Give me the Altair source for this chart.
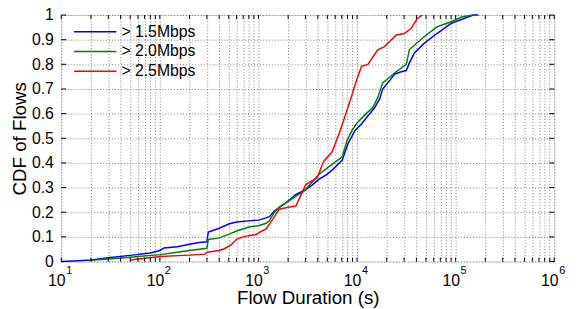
import altair as alt
import pandas as pd

# ---- data ----
blue_x = [10, 15, 20, 30, 50, 80, 100, 110, 150, 200, 250, 300, 310, 340, 400, 500, 600, 800, 1000,
          1150, 1290, 1450, 1620, 2000, 2400, 3020, 3500, 4070, 5000, 5620, 7080, 8130, 9550, 11200,
          12000, 15140, 15850, 17000, 18200, 21000, 24000, 28000, 31600, 33900, 38000, 47900, 64600,
          89100, 120000, 151000, 170000]
blue_y = [0, 0.003, 0.006, 0.015, 0.025, 0.035, 0.045, 0.055, 0.06, 0.07, 0.077, 0.08, 0.12, 0.125,
          0.135, 0.152, 0.16, 0.165, 0.168, 0.175, 0.182, 0.205, 0.219, 0.245, 0.272, 0.292, 0.31,
          0.332, 0.355, 0.372, 0.412, 0.48, 0.532, 0.56, 0.575, 0.625, 0.64, 0.66, 0.70, 0.73, 0.76,
          0.77, 0.775, 0.805, 0.845, 0.885, 0.925, 0.965, 0.985, 1.0, 1.0]

green_x = [20, 30, 50, 100, 150, 200, 300, 310, 350, 400, 500, 600, 800, 1000, 1200, 1290, 1450,
           1620, 2400, 2900, 4070, 5000, 7080, 7940, 8900, 9900, 12000, 14450, 16200, 18200, 24000,
           31600, 34000, 47900, 64600, 89100, 115000, 150000]
green_y = [0.005, 0.01, 0.017, 0.028, 0.038, 0.045, 0.054, 0.09, 0.092, 0.096, 0.11, 0.124, 0.14,
           0.145, 0.155, 0.165, 0.2, 0.22, 0.265, 0.285, 0.352, 0.38, 0.425, 0.492, 0.532, 0.56,
           0.595, 0.625, 0.665, 0.725, 0.765, 0.8, 0.86, 0.912, 0.952, 0.972, 0.992, 1.0]

red_x = [50, 55, 100, 200, 290, 300, 400, 450, 520, 600, 700, 800, 950, 1100, 1200, 1400, 1620,
         2000, 2400, 3020, 3950, 4570, 5590, 6760, 7590, 8510, 9950, 11100, 12900, 16200, 19000,
         25000, 30200, 35300, 40700, 45700]
red_y = [0.005, 0.008, 0.02, 0.026, 0.03, 0.038, 0.045, 0.052, 0.065, 0.09, 0.1, 0.105, 0.11,
         0.125, 0.132, 0.172, 0.212, 0.22, 0.225, 0.312, 0.34, 0.405, 0.445, 0.532, 0.592, 0.652,
         0.739, 0.792, 0.8, 0.859, 0.872, 0.919, 0.925, 0.945, 0.985, 1.0]

series_names = ["> 1.5Mbps", "> 2.0Mbps", "> 2.5Mbps"]
series_colors = ["#0000ff", "#008000", "#ff0000"]

decades = [10, 100, 1000, 10000, 100000, 1000000]
exponents = ["1", "2", "3", "4", "5", "6"]
minor_mult = [2, 3, 4, 5, 6, 7, 8, 9]
y_ticks = [0, 0.1, 0.2, 0.3, 0.4, 0.5, 0.6, 0.7, 0.8, 0.9, 1]

# ---- tables ----
rows = []
for name, xs, ys in zip(series_names, [blue_x, green_x, red_x], [blue_y, green_y, red_y]):
    for i, (a, b) in enumerate(zip(xs, ys)):
        rows.append({"series": name, "x": a, "y": b, "order": i})
df = pd.DataFrame(rows)

x_ticks = sorted(decades + [m * d for d in decades[:-1] for m in minor_mult])
xt_df = pd.DataFrame({"x": x_ticks})
yt_df = pd.DataFrame({"y": y_ticks})
lab_df = pd.DataFrame({"x": decades, "base": ["10"] * len(decades), "exp": exponents})

FONT = "Liberation Sans"
W, H = 500, 250

xscale = alt.Scale(type="log", domain=[10, 1000000])
yscale = alt.Scale(domain=[0, 1])

x_axis = alt.Axis(values=x_ticks, labels=False, ticks=False, domain=False,
                  grid=True, gridDash=[1, 2], gridColor="#808080", gridWidth=1,
                  title="Flow Duration (s)", titleFont=FONT, titleFontSize=19,
                  titleFontWeight="normal", titleColor="black",
                  titleY=42.7, titleBaseline="alphabetic")
y_axis = alt.Axis(values=y_ticks, format="~g", ticks=False, domain=False,
                  labelOverlap=False,
                  grid=True, gridDash=[1, 2], gridColor="#808080", gridWidth=1,
                  labelFont=FONT, labelFontSize=16, labelColor="black", labelPadding=8,
                  title="CDF of Flows", titleFont=FONT, titleFontSize=19,
                  titleFontWeight="normal", titleColor="black",
                  titleX=-36, titleY=125, titleBaseline="alphabetic")

lines = alt.Chart(df).mark_line(strokeWidth=1.5).encode(
    x=alt.X("x:Q", scale=xscale, axis=x_axis, title="Flow Duration (s)"),
    y=alt.Y("y:Q", scale=yscale, axis=y_axis, title="CDF of Flows"),
    color=alt.Color("series:N", scale=alt.Scale(domain=series_names, range=series_colors),
                    legend=alt.Legend(title=None, orient="none", legendX=12, legendY=7, padding=0,
                                      symbolType="stroke", symbolSize=1849, symbolStrokeWidth=1.5,
                                      clipHeight=20, labelFont=FONT, labelFontSize=16,
                                      labelColor="black", labelOffset=4, rowPadding=0)),
    order="order:Q",
)

tick_len = 4
X = alt.X("x:Q", scale=xscale, axis=x_axis, title="Flow Duration (s)")
Y = alt.Y("y:Q", scale=yscale, axis=y_axis, title="CDF of Flows")

xt_bottom = alt.Chart(xt_df).mark_rule(color="black", strokeWidth=1).encode(
    x=X, y=alt.value(H), y2=alt.value(H - tick_len))
xt_top = alt.Chart(xt_df).mark_rule(color="black", strokeWidth=1).encode(
    x=X, y=alt.value(0), y2=alt.value(tick_len))
yt_left = alt.Chart(yt_df).mark_rule(color="black", strokeWidth=1).encode(
    y=Y, x=alt.value(0), x2=alt.value(tick_len + 1))
yt_right = alt.Chart(yt_df).mark_rule(color="black", strokeWidth=1).encode(
    y=Y, x=alt.value(W), x2=alt.value(W - tick_len - 1))

base_lab = alt.Chart(lab_df).mark_text(font=FONT, fontSize=16, align="center",
                                       baseline="alphabetic", dx=-4.5, color="black").encode(
    x=X, y=alt.value(H + 25), text="base:N")
exp_lab = alt.Chart(lab_df).mark_text(font=FONT, fontSize=11, align="left",
                                      baseline="alphabetic", dx=5, color="black").encode(
    x=X, y=alt.value(H + 13), text="exp:N")

chart = alt.layer(lines, xt_bottom, xt_top, yt_left, yt_right, base_lab, exp_lab).properties(
    width=W, height=H,
    autosize=alt.AutoSizeParams(type="none"),
    padding={"left": 54, "top": 5, "right": 16, "bottom": 46},
).configure_view(stroke="black", strokeWidth=1).configure(background="white")

chart.save("out.html", embed_options={"renderer": "svg", "actions": False})
